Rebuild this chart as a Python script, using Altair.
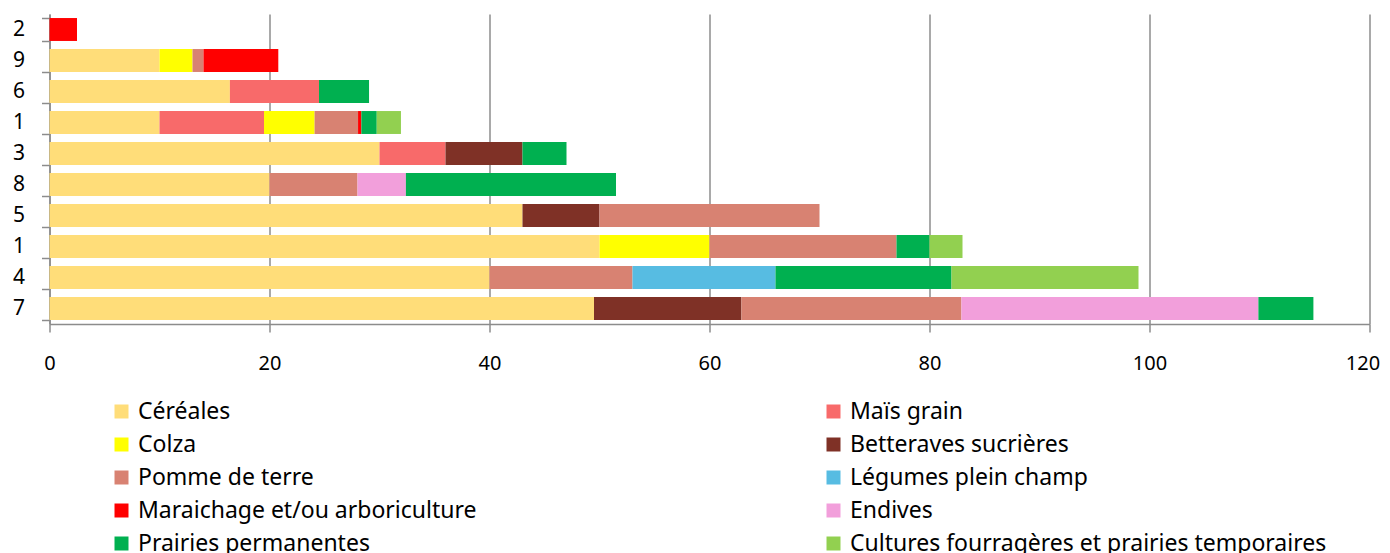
import altair as alt
import pandas as pd

# Row labels, top to bottom
labels = ["2", "9", "6", "1", "3", "8", "5", "1", "4", "7"]

series = [
    "Céréales",
    "Maïs grain",
    "Colza",
    "Betteraves sucrières",
    "Pomme de terre",
    "Légumes plein champ",
    "Maraichage et/ou arboriculture",
    "Endives",
    "Prairies permanentes",
    "Cultures fourragères et prairies temporaires",
]

colors = ["#FFDD79", "#F86A6A", "#FFFF00", "#7F3126", "#D88272",
          "#57BCE2", "#FF0000", "#F29FDB", "#00B050", "#92D050"]

cereales    = [0, 10, 16.4, 10, 30, 20, 43, 50, 40, 49.5]
mais        = [0, 0, 8.1, 9.5, 6, 0, 0, 0, 0, 0]
colza       = [0, 3, 0, 4.6, 0, 0, 0, 10, 0, 0]
betteraves  = [0, 0, 0, 0, 7, 0, 7, 0, 0, 13.4]
pomme       = [0, 1, 0, 3.95, 0, 8, 20, 17, 13, 20]
legumes     = [0, 0, 0, 0, 0, 0, 0, 0, 13, 0]
maraichage  = [2.5, 6.8, 0, 0.3, 0, 0, 0, 0, 0, 0]
endives     = [0, 0, 0, 0, 0, 4.4, 0, 0, 0, 27]
prairies    = [0, 0, 4.55, 1.4, 4, 19.1, 0, 3, 16, 5]
cultures    = [0, 0, 0, 2.2, 0, 0, 0, 3, 17, 0]

all_values = [cereales, mais, colza, betteraves, pomme, legumes,
              maraichage, endives, prairies, cultures]

x_ticks = [0, 20, 40, 60, 80, 100, 120]

ids = [f"{lab}|{i}" for i, lab in enumerate(labels)]

rows = []
for k, (s, vals) in enumerate(zip(series, all_values)):
    for i, v in enumerate(vals):
        if v > 0:
            rows.append({"id": ids[i], "serie": s, "value": v, "ord": k})
df = pd.DataFrame(rows)

FONT = "Noto Sans"
GRAY = "#8C8C8C"

bars = alt.Chart(df).mark_bar().encode(
    x=alt.X("value:Q", stack="zero",
            scale=alt.Scale(domain=[0, 120], nice=False),
            axis=alt.Axis(title=None, values=x_ticks,
                          grid=True, gridColor=GRAY, gridWidth=1.5,
                          domainColor=GRAY, domainWidth=1.5,
                          tickColor=GRAY, tickWidth=1.5, tickSize=8,
                          labelFont=FONT, labelFontSize=20, labelColor="#000000",
                          labelPadding=21, labelFlush=False,
                          labelOffset=alt.condition("datum.value == 120",
                                                    alt.value(-7), alt.value(0)))),
    y=alt.Y("id:N", sort=ids,
            scale=alt.Scale(paddingInner=0.26, paddingOuter=0.13),
            axis=alt.Axis(title=None,
                          labelExpr="isString(datum.value) ? split(datum.value, '|')[0] : ''",
                          tickBand="extent", grid=False,
                          domainColor=GRAY, domainWidth=1.5,
                          tickColor=GRAY, tickWidth=1.5, tickSize=8,
                          labelFont=FONT, labelFontSize=21, labelColor="#000000",
                          labelPadding=17)),
    color=alt.Color("serie:N", scale=alt.Scale(domain=series, range=colors), legend=None),
    order=alt.Order("ord:Q"),
)

col1 = series[0::2]
col2 = series[1::2]
colors1 = colors[0::2]
colors2 = colors[1::2]


def legend_layer(names, cols, lx):
    return alt.Chart(pd.DataFrame({"serie": names})).mark_square(opacity=0).encode(
        color=alt.Color("serie:N", scale=alt.Scale(domain=names, range=cols),
                        legend=alt.Legend(orient="none", legendX=lx, legendY=386,
                                          title=None, symbolType="square",
                                          symbolSize=196, symbolOpacity=1,
                                          symbolStrokeWidth=0,
                                          labelFont=FONT, labelFontSize=23,
                                          labelColor="#000000", labelOffset=5,
                                          rowPadding=9, labelLimit=0))
    )


chart = alt.layer(
    bars,
    legend_layer(col1, colors1, 60.5),
    legend_layer(col2, colors2, 772.5),
).resolve_scale(color="independent").properties(
    width=1320, height=310,
    autosize=alt.AutoSizeParams(type="none"),
    padding={"left": 41.5, "top": 6, "right": 12.5, "bottom": 236},
).configure_view(stroke=None)

chart.save("out.html", embed_options={"renderer": "svg", "actions": False})
